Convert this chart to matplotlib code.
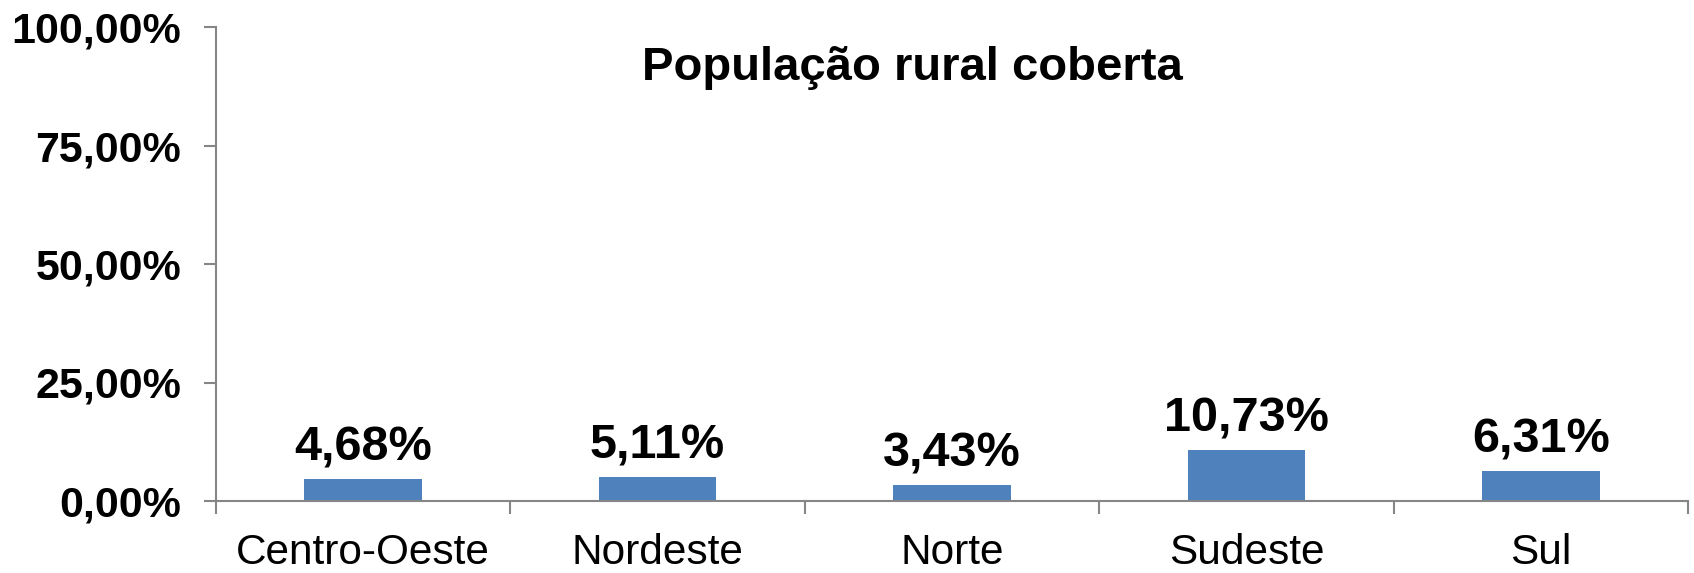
import matplotlib
matplotlib.use("Agg")
import matplotlib.pyplot as plt
import numpy as np
from matplotlib.ticker import FixedLocator, FuncFormatter

regions = ["Centro-Oeste", "Nordeste", "Norte", "Sudeste", "Sul"]
coverage = [4.68, 5.11, 3.43, 10.73, 6.31]
y_ticks = [0, 25, 50, 75, 100]

plt.rcParams["font.family"] = ["Liberation Sans", "DejaVu Sans"]

fig = plt.figure(figsize=(16.94, 5.73), dpi=100)
ax = fig.add_axes([216 / 1694, 72 / 573, 1472 / 1694, 474 / 573])

x = np.arange(len(regions))
ax.bar(x, coverage, width=0.40, color="#4F81BD", zorder=2)

for xi, v in zip(x, coverage):
    ax.annotate(f"{v:.2f}%".replace(".", ","), (xi, v), xytext=(0, 6),
                textcoords="offset points", ha="center", va="bottom",
                fontsize=35, fontweight="bold")

ax.set_xlim(-0.5, len(regions) - 0.5)
ax.set_ylim(0, 100)
ax.set_yticks(y_ticks)
ax.yaxis.set_major_formatter(FuncFormatter(lambda v, _: f"{v:.2f}%".replace(".", ",")))
ax.set_xticks(x)
ax.set_xticklabels(regions)
ax.xaxis.set_minor_locator(FixedLocator(np.arange(len(regions) + 1) - 0.5))

for side in ["top", "right"]:
    ax.spines[side].set_visible(False)
for side in ["left", "bottom"]:
    ax.spines[side].set_color("#868686")
    ax.spines[side].set_linewidth(1.5)

ax.tick_params(axis="y", length=9, width=1.5, color="#868686", pad=16,
               labelsize=31)
for lab in ax.get_yticklabels():
    lab.set_fontweight("bold")
ax.tick_params(axis="x", which="major", length=0, pad=23, labelsize=30.5)
ax.tick_params(axis="x", which="minor", length=9, width=1.5, color="#868686")

fig.text(912 / 1694, 1 - 68 / 573, "População rural coberta", ha="center",
         va="center", fontsize=34, fontweight="bold")

fig.savefig("out.png", dpi=100)
plt.close()
